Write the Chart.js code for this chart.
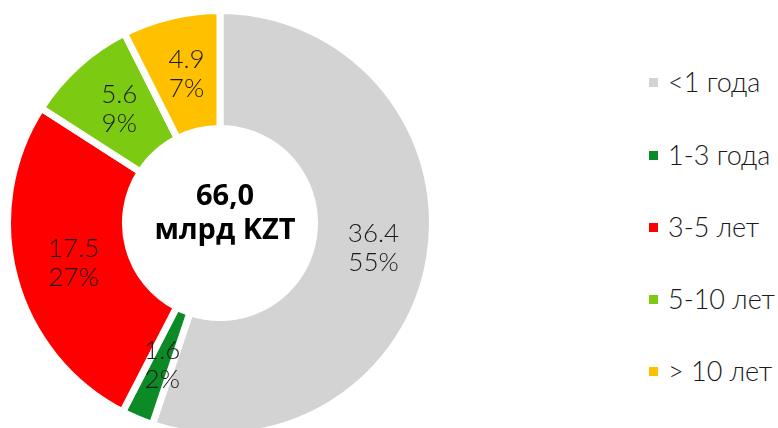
<!DOCTYPE html>
<html>
<head>
<meta charset="utf-8">
<script src="https://cdn.jsdelivr.net/npm/chart.js@4"></script>
<style>
  html, body { margin: 0; padding: 0; width: 778px; height: 428px; overflow: hidden; background: #fff; }
  #wrap { position: absolute; left: 4px; top: 7px; width: 432px; height: 432px; }
  #legend { position: absolute; left: 649px; top: 0; margin: 0; padding: 0; list-style: none;
            font-family: Lato, sans-serif; font-weight: 300; font-size: 27px; color: #1a1a1a; }
  #legend li { position: absolute; left: 0; white-space: nowrap; height: 30px; line-height: 30px; }
  #legend .sw { position: absolute; left: 0; top: 11px; width: 9px; height: 9px; }
  #legend .tx { position: absolute; left: 19px; top: 0; }
</style>
</head>
<body>
<div id="wrap"><canvas id="c"></canvas></div>
<ul id="legend"></ul>
<script>
const categories = ['<1 года', '1-3 года', '3-5 лет', '5-10 лет', '> 10 лет'];
const values = [36.4, 1.6, 17.5, 5.6, 4.9];
const percentLabels = ['55%', '2%', '27%', '9%', '7%'];
const colors = ['#D3D3D3', '#0B8A26', '#FF0000', '#7CCB12', '#FFC000'];
const centerLines = ['66,0', 'млрд KZT'];

const sliceLabels = {
  id: 'sliceLabels',
  afterDatasetsDraw(chart) {
    const ctx = chart.ctx;
    const meta = chart.getDatasetMeta(0);
    ctx.save();
    ctx.font = '300 26px Lato';
    ctx.fillStyle = '#1a1a1a';
    ctx.textAlign = 'center';
    ctx.textBaseline = 'middle';
    meta.data.forEach((arc, i) => {
      const p = arc.tooltipPosition();
      ctx.fillText(String(values[i]), p.x + 2, p.y - 14);
      ctx.fillText(percentLabels[i], p.x + 2, p.y + 15);
    });
    // centre text
    const a = meta.data[0];
    ctx.font = '700 29px "Open Sans"';
    ctx.fillStyle = '#000';
    ctx.fillText(centerLines[0], a.x + 5, a.y - 26);
    ctx.fillText(centerLines[1], a.x + 5, a.y + 8);
    ctx.restore();
  }
};

new Chart(document.getElementById('c'), {
  type: 'doughnut',
  data: {
    labels: categories,
    datasets: [{
      data: values,
      backgroundColor: colors,
      borderColor: '#ffffff',
      borderWidth: 7,
      borderJoinStyle: 'miter',
      hoverOffset: 0
    }]
  },
  options: {
    responsive: true,
    maintainAspectRatio: false,
    animation: false,
    cutout: '44.5%',
    layout: { padding: 0 },
    plugins: {
      legend: { display: false },
      tooltip: { enabled: false }
    }
  },
  plugins: [sliceLabels]
});

const legendTops = [83, 156, 228, 300, 372];
const ul = document.getElementById('legend');
categories.forEach((c, i) => {
  const li = document.createElement('li');
  li.style.top = (legendTops[i] - 16) + 'px';
  const sw = document.createElement('span');
  sw.className = 'sw';
  sw.style.background = colors[i];
  const tx = document.createElement('span');
  tx.className = 'tx';
  tx.textContent = c;
  li.appendChild(sw);
  li.appendChild(tx);
  ul.appendChild(li);
});
</script>
</body>
</html>
